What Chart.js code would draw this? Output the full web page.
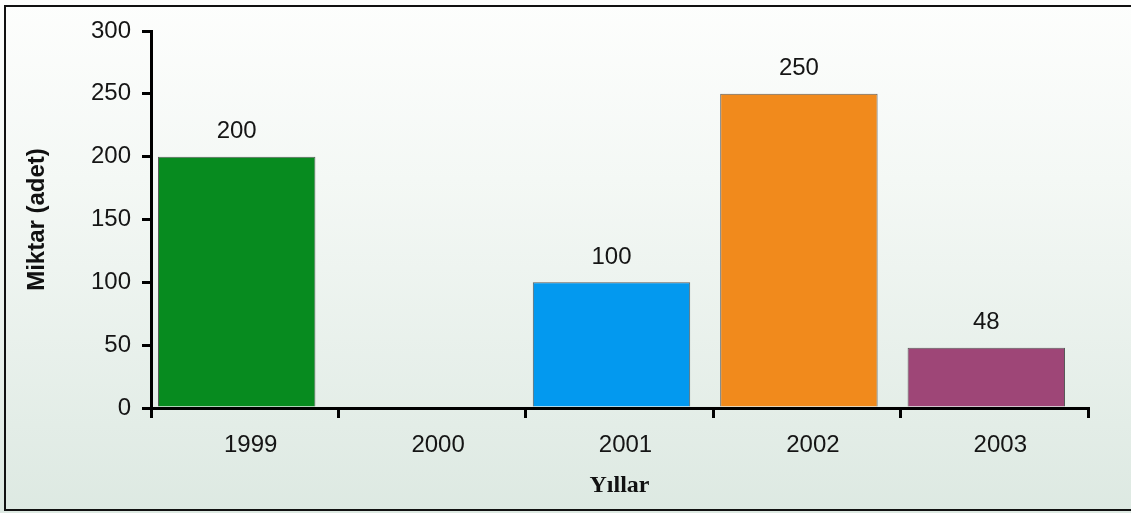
<!DOCTYPE html>
<html>
<head>
<meta charset="utf-8">
<script src="https://cdn.jsdelivr.net/npm/chart.js@4.4.1/dist/chart.umd.min.js"></script>
<style>
  html, body { margin: 0; padding: 0; background: #fff; }
  #wrap {
    position: absolute; left: 0; top: 0; width: 1131px; height: 513px;
    background: linear-gradient(to bottom, #fdfefd 0%, #f4f8f5 35%, #dde9e2 100%);
  }
  #frame {
    position: absolute; left: 4px; top: 5px; width: 1127px; height: 506px;
    box-sizing: border-box; pointer-events: none;
    border-left: 2px solid #111; border-top: 2px solid #111; border-bottom: 2px solid #111;
  }
  canvas { position: absolute; left: 0; top: 0; }
</style>
</head>
<body>
<div id="wrap">
  <canvas id="graph-bar" width="1131" height="513"></canvas>
  <div id="frame"></div>
</div>
<script>
const years = ['1999', '2000', '2001', '2002', '2003']
const amounts = [200, 0, 100, 250, 48]
const barColors = ['#078b1f', '#c0392b', '#0399ef', '#f18a1c', '#9e4677']
const yTicks = [0, 50, 100, 150, 200, 250, 300]

// bars sit a little left of the category centre, numbers printed above them
const barShift = -8
const barLabels = {
  id: 'barLabels',
  beforeDatasetsDraw(chart) {
    chart.ctx.save()
    chart.ctx.translate(barShift, 0)
  },
  afterDatasetsDraw(chart) {
    const ctx = chart.ctx
    ctx.font = '24px "Liberation Sans"'
    ctx.fillStyle = '#151515'
    ctx.textAlign = 'center'
    ctx.textBaseline = 'bottom'
    chart.getDatasetMeta(0).data.forEach((bar, i) => {
      const v = amounts[i]
      if (v > 0) ctx.fillText(String(v), bar.x, bar.y - 13)
    })
    ctx.restore()
  }
}

const axisFont = { family: 'Liberation Sans', size: 24 }

const config = {
  type: 'bar',
  data: {
    labels: years,
    datasets: [{
      data: amounts,
      backgroundColor: barColors,
      borderColor: 'rgba(40,40,40,0.75)',
      borderWidth: 1,
      barPercentage: 0.84,
      categoryPercentage: 1
    }]
  },
  options: {
    responsive: false,
    animation: false,
    layout: { padding: { left: 0, top: 31, right: 43, bottom: 0 } },
    plugins: {
      legend: { display: false },
      tooltip: { enabled: false }
    },
    scales: {
      x: {
        z: 1,
        offset: true,
        border: { display: true, color: '#000', width: 3 },
        grid: { offset: true, drawOnChartArea: false, drawTicks: true, tickLength: 10, color: '#000', lineWidth: 3 },
        ticks: { color: '#151515', font: axisFont, padding: 13, labelOffset: 6, maxRotation: 0 },
        title: {
          display: true, text: 'Yıllar', color: '#111',
          font: { family: 'Liberation Serif', size: 24, weight: 'bold' },
          padding: { top: 8, bottom: 13 }
        },
        afterFit: s => { s.height = 105 }
      },
      y: {
        z: 1,
        min: 0,
        max: 300,
        afterBuildTicks: s => { s.ticks = yTicks.map(v => ({ value: v })) },
        border: { display: true, color: '#000', width: 3 },
        grid: { drawOnChartArea: false, drawTicks: true, tickLength: 9, color: '#000', lineWidth: 3 },
        ticks: { color: '#151515', font: axisFont, padding: 11 },
        title: {
          display: true, text: 'Miktar (adet)', color: '#111',
          font: { family: 'Liberation Sans', size: 24, weight: 'bold' },
          padding: { top: 23, bottom: 0 }
        },
        afterFit: s => { s.width = 151 }
      }
    }
  },
  plugins: [barLabels]
}

let chart = new Chart(document.querySelector('#graph-bar'), config)
</script>
</body>
</html>
